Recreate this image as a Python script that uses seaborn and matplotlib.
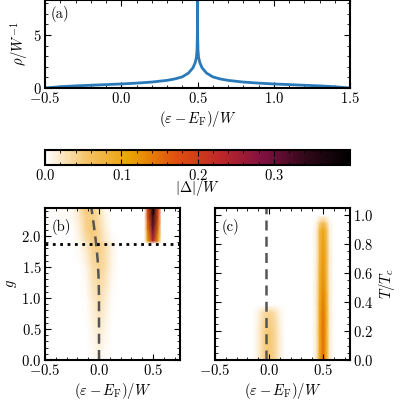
"""Density of states and gap maps, three panels with a shared colour bar."""

import matplotlib
matplotlib.use("Agg")
import matplotlib.pyplot as plt
import numpy as np
import pandas as pd
import seaborn as sns
from matplotlib.colors import LinearSegmentedColormap

# (a) density of states
dos_e = [-0.5, -0.4, -0.3, -0.2, -0.1, 0.0, 0.1, 0.2, 0.3, 0.35, 0.4, 0.44, 0.47, 0.485,
         0.493, 0.497, 0.499, 0.4999, 0.5, 0.5001, 0.501, 0.503, 0.507, 0.515, 0.53, 0.56,
         0.6, 0.65, 0.7, 0.8, 0.9, 1.0, 1.1, 1.2, 1.3, 1.4, 1.5]
dos_rho = [0.0, 0.12, 0.2, 0.26, 0.32, 0.38, 0.46, 0.56, 0.72, 0.85, 1.05, 1.4, 1.9, 2.4,
           2.9, 3.6, 5.0, 7.0, 8.3, 7.0, 5.0, 3.6, 2.9, 2.4, 1.9, 1.4,
           1.05, 0.85, 0.72, 0.56, 0.46, 0.38, 0.32, 0.26, 0.2, 0.12, 0.0]

# (b) gap vs energy and coupling g
b_e = [-0.5, -0.25, -0.18, -0.12, -0.06, 0.0, 0.06, 0.12, 0.18, 0.3, 0.42, 0.45, 0.5, 0.55, 0.58, 0.75]
b_g = [0.0, 0.5, 1.0, 1.5, 1.8, 1.88, 1.92, 2.1, 2.3, 2.45]
b_gap = [
    [0, 0, 0, 0, 0.003, 0.008, 0.003, 0, 0, 0, 0, 0, 0, 0, 0, 0],
    [0, 0, 0, 0, 0.008, 0.018, 0.008, 0, 0, 0, 0, 0, 0, 0, 0, 0],
    [0, 0, 0, 0.003, 0.018, 0.03, 0.018, 0.003, 0, 0, 0, 0, 0, 0, 0, 0],
    [0, 0, 0, 0.008, 0.03, 0.04, 0.03, 0.008, 0, 0, 0, 0, 0, 0, 0, 0],
    [0, 0, 0.005, 0.02, 0.04, 0.045, 0.03, 0.01, 0, 0, 0, 0, 0, 0, 0, 0],
    [0, 0, 0.005, 0.02, 0.04, 0.045, 0.03, 0.01, 0, 0, 0, 0, 0, 0, 0, 0],
    [0, 0, 0.01, 0.03, 0.045, 0.04, 0.02, 0.005, 0, 0, 0, 0.1, 0.24, 0.1, 0, 0],
    [0, 0, 0.015, 0.04, 0.05, 0.035, 0.015, 0, 0, 0, 0, 0.14, 0.30, 0.14, 0, 0],
    [0, 0.005, 0.02, 0.045, 0.045, 0.03, 0.01, 0, 0, 0, 0, 0.17, 0.34, 0.17, 0, 0],
    [0, 0.005, 0.025, 0.05, 0.04, 0.025, 0.005, 0, 0, 0, 0, 0.18, 0.36, 0.18, 0, 0],
]
b_line_g = [0.0, 0.5, 1.0, 1.3, 1.6, 1.8, 2.0, 2.2, 2.45]
b_line_e = [0.0, 0.0, 0.0, -0.003, -0.012, -0.022, -0.035, -0.05, -0.07]
b_g_crit = 1.87

# (c) gap vs energy and temperature
c_e = [-0.5, -0.15, -0.1, -0.05, 0.0, 0.05, 0.1, 0.15, 0.4, 0.44, 0.47, 0.5, 0.53, 0.56, 0.6, 0.75]
c_t = [0.0, 0.2, 0.33, 0.38, 0.5, 0.9, 0.95, 1.0, 1.05]
c_gap = [
    [0, 0, 0.015, 0.04, 0.05, 0.04, 0.015, 0, 0, 0.02, 0.1, 0.15, 0.1, 0.02, 0, 0],
    [0, 0, 0.015, 0.04, 0.05, 0.04, 0.015, 0, 0, 0.02, 0.1, 0.15, 0.1, 0.02, 0, 0],
    [0, 0, 0.01, 0.03, 0.04, 0.03, 0.01, 0, 0, 0.02, 0.1, 0.145, 0.1, 0.02, 0, 0],
    [0, 0, 0, 0, 0, 0, 0, 0, 0, 0.02, 0.1, 0.14, 0.1, 0.02, 0, 0],
    [0, 0, 0, 0, 0, 0, 0, 0, 0, 0.02, 0.09, 0.13, 0.09, 0.02, 0, 0],
    [0, 0, 0, 0, 0, 0, 0, 0, 0, 0.015, 0.07, 0.1, 0.07, 0.015, 0, 0],
    [0, 0, 0, 0, 0, 0, 0, 0, 0, 0.01, 0.04, 0.06, 0.04, 0.01, 0, 0],
    [0, 0, 0, 0, 0, 0, 0, 0, 0, 0, 0, 0, 0, 0, 0, 0],
    [0, 0, 0, 0, 0, 0, 0, 0, 0, 0, 0, 0, 0, 0, 0, 0],
]
c_line_e = [-0.03, -0.03]
c_line_t = [0.0, 1.05]

plt.rcParams.update({
    "font.family": "serif",
    "font.serif": ["cmr10", "DejaVu Serif"],
    "mathtext.fontset": "cm",
    "axes.formatter.use_mathtext": True,
    "font.size": 10.5,
    "axes.linewidth": 1.5,
    "axes.labelpad": 2,
    "xtick.major.pad": 2.5, "ytick.major.pad": 2.5,
    "xtick.direction": "in", "ytick.direction": "in",
    "xtick.top": True, "ytick.right": True,
    "xtick.minor.visible": True, "ytick.minor.visible": True,
    "xtick.major.size": 4, "ytick.major.size": 4,
    "xtick.minor.size": 2, "ytick.minor.size": 2,
})

cmap = LinearSegmentedColormap.from_list(
    "gap", ["#ffffff", "#f5c060", "#eaa000", "#e05010", "#c02828", "#801040", "#300818", "#000000"])
vmax = 0.4

fig = plt.figure(figsize=(4, 4), dpi=100)
ax_a = fig.add_axes([0.1125, 0.78, 0.7625, 0.22])
ax_cb = fig.add_axes([0.1125, 0.5875, 0.7625, 0.0375])
ax_b = fig.add_axes([0.1125, 0.1, 0.3375, 0.38])
ax_c = fig.add_axes([0.5375, 0.1, 0.3375, 0.38])

df = pd.DataFrame({"e": dos_e, "rho": dos_rho})
sns.lineplot(data=df, x="e", y="rho", ax=ax_a, color="#2a7ab9", linewidth=2, sort=False)
ax_a.set_xlim(-0.5, 1.5)
ax_a.set_ylim(0, 8.3)
ax_a.set_yticks([0, 5])
ax_a.set_xlabel(r"$(\varepsilon-E_{\rm F})/W$")
ax_a.set_ylabel(r"$\rho/W^{-1}$")
ax_a.text(0.02, 0.93, "(a)", transform=ax_a.transAxes, va="top")

mesh = ax_b.pcolormesh(b_e, b_g, np.array(b_gap), cmap=cmap, vmin=0, vmax=vmax, shading="gouraud")
ax_b.plot(b_line_e, b_line_g, ls="--", color="#555555", lw=1.8, dashes=(4, 2.5))
ax_b.axhline(b_g_crit, ls=":", color="black", lw=2)
ax_b.set_xlim(-0.5, 0.75)
ax_b.set_ylim(0, 2.45)
ax_b.set_yticks([0, 0.5, 1.0, 1.5, 2.0])
ax_b.set_xlabel(r"$(\varepsilon-E_{\rm F})/W$")
ax_b.set_ylabel(r"$g$")
ax_b.text(0.05, 0.93, "(b)", transform=ax_b.transAxes, va="top")

ax_c.pcolormesh(c_e, c_t, np.array(c_gap), cmap=cmap, vmin=0, vmax=vmax, shading="gouraud")
ax_c.plot(c_line_e, c_line_t, ls="--", color="#555555", lw=1.8, dashes=(4, 2.5))
ax_c.set_xlim(-0.5, 0.75)
ax_c.set_ylim(0, 1.05)
ax_c.set_yticks([0, 0.2, 0.4, 0.6, 0.8, 1.0])
ax_c.yaxis.set_label_position("right")
ax_c.tick_params(axis="y", labelleft=False, labelright=True)
ax_c.set_xlabel(r"$(\varepsilon-E_{\rm F})/W$")
ax_c.set_ylabel(r"$T/T_c$")
ax_c.text(0.05, 0.93, "(c)", transform=ax_c.transAxes, va="top")

cb = fig.colorbar(mesh, cax=ax_cb, orientation="horizontal")
cb.set_ticks([0, 0.1, 0.2, 0.3])
cb.ax.xaxis.set_ticks_position("both")
cb.ax.minorticks_on()
cb.ax.tick_params(which="both", direction="in")
cb.set_label(r"$|\Delta|/W$", labelpad=-4)
cb.outline.set_linewidth(1.5)

fig.savefig("out.png", dpi=100)
